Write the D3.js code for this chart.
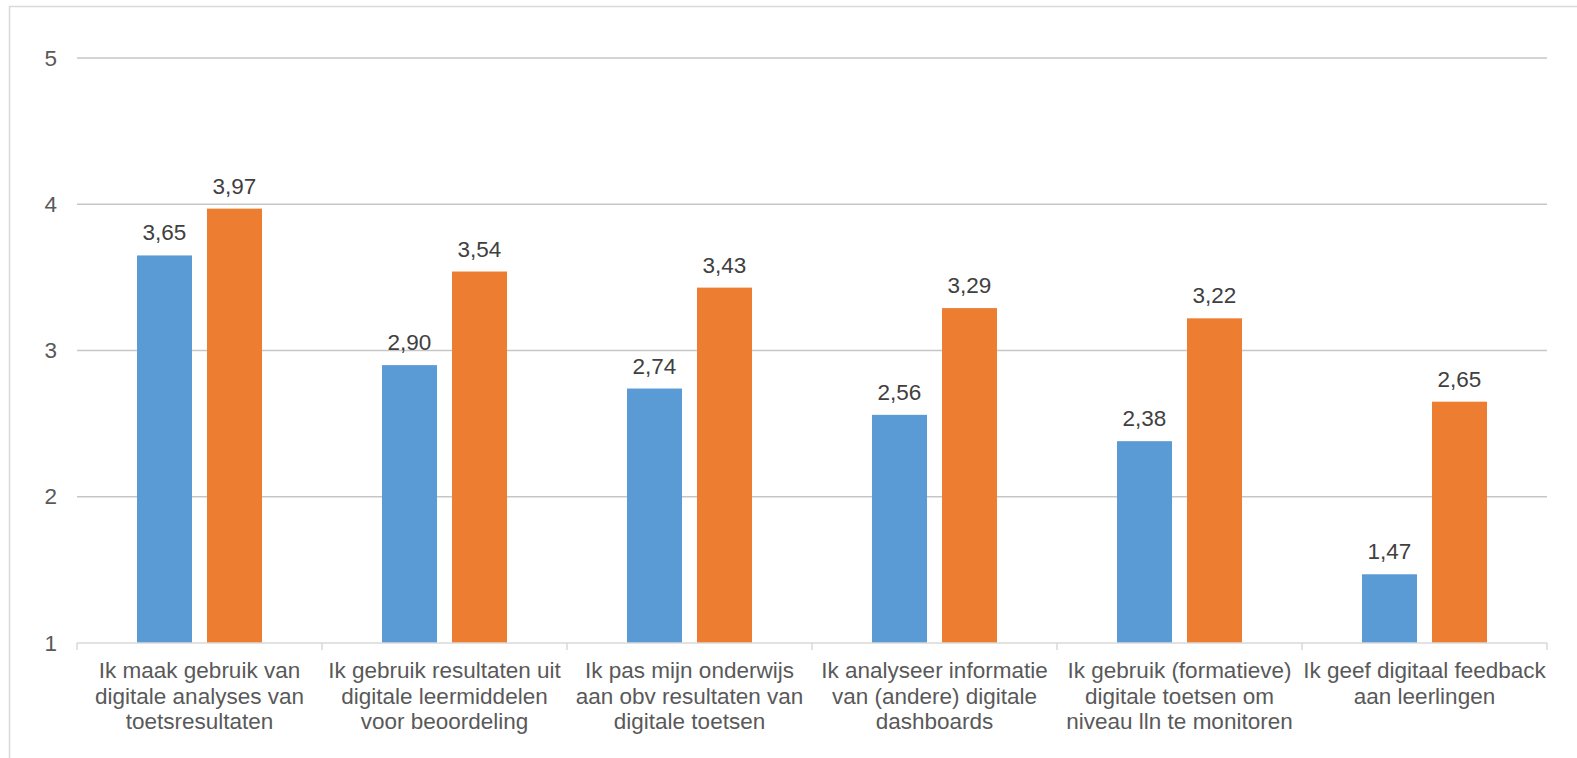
<!DOCTYPE html>
<html>
<head>
<meta charset="utf-8">
<script src="https://cdn.jsdelivr.net/npm/d3@7"></script>
<style>
  html, body { margin: 0; padding: 0; background: #fff; }
  svg { display: block; font-family: "Liberation Sans", Arial, sans-serif; }
</style>
</head>
<body>
<svg id="chart" width="1577" height="758"></svg>
<script>
// Category labels, one entry per line
const categories = [
  ["Ik maak gebruik van", "digitale analyses van", "toetsresultaten"],
  ["Ik gebruik resultaten uit", "digitale leermiddelen", "voor beoordeling"],
  ["Ik pas mijn onderwijs", "aan obv resultaten van", "digitale toetsen"],
  ["Ik analyseer informatie", "van (andere) digitale", "dashboards"],
  ["Ik gebruik (formatieve)", "digitale toetsen om", "niveau lln te monitoren"],
  ["Ik geef digitaal feedback", "aan leerlingen"]
];
const seriesA = [3.65, 2.90, 2.74, 2.56, 2.38, 1.47];
const seriesB = [3.97, 3.54, 3.43, 3.29, 3.22, 2.65];
const yTicks = [1, 2, 3, 4, 5];

const seriesNames = ["A", "B"];
const colors = { A: "#5b9bd5", B: "#ed7d31" };
const fontSize = 22.5;

const svg = d3.select("#chart");

// chart frame
svg.append("rect")
  .attr("x", 9.5).attr("y", 6.5)
  .attr("width", 1600).attr("height", 800)
  .attr("fill", "none").attr("stroke", "#d9d9d9").attr("stroke-width", 1.5);

const plotLeft = 77, plotRight = 1547, plotTop = 58, plotBottom = 643;

const x0 = d3.scaleBand().domain(d3.range(categories.length)).range([plotLeft, plotRight]);
const x1 = d3.scaleBand().domain(seriesNames).range([0, x0.bandwidth()])
  .paddingInner(15 / 70).paddingOuter(60 / 70);
const y = d3.scaleLinear().domain([1, 5]).range([plotBottom, plotTop]);

// gridlines
svg.append("g").selectAll("line").data(yTicks.filter(t => t > 1)).join("line")
  .attr("x1", plotLeft).attr("x2", plotRight)
  .attr("y1", d => y(d)).attr("y2", d => y(d))
  .attr("stroke", "#c6c6c6").attr("stroke-width", 1.5);

// y tick labels
const yAxis = d3.axisLeft(y).tickValues(yTicks).tickSize(0).tickPadding(20).tickFormat(d3.format("d"));
const gy = svg.append("g").attr("transform", `translate(${plotLeft},0)`).call(yAxis);
gy.select(".domain").remove();
gy.selectAll("text")
  .attr("font-size", fontSize).attr("fill", "#595959")
  .attr("font-family", "Liberation Sans, Arial, sans-serif");

// bars
const rows = categories.map((c, i) => ({ i, A: seriesA[i], B: seriesB[i] }));
const groups = svg.append("g").selectAll("g").data(rows).join("g")
  .attr("transform", d => `translate(${x0(d.i)},0)`);

groups.selectAll("rect")
  .data(d => seriesNames.map(k => ({ k, v: d[k] })))
  .join("rect")
  .attr("x", d => x1(d.k))
  .attr("width", x1.bandwidth())
  .attr("y", d => y(d.v))
  .attr("height", d => y(1) - y(d.v))
  .attr("fill", d => colors[d.k]);

// value labels
const fmt = v => d3.format(".2f")(v).replace(".", ",");
groups.selectAll("text.val")
  .data(d => seriesNames.map(k => ({ k, v: d[k] })))
  .join("text")
  .attr("class", "val")
  .attr("x", d => x1(d.k) + x1.bandwidth() / 2)
  .attr("y", d => y(d.v) - 15)
  .attr("text-anchor", "middle")
  .attr("font-size", fontSize)
  .attr("fill", "#404040")
  .text(d => fmt(d.v));

// x axis
const xAxis = d3.axisBottom(x0).tickSize(0).tickFormat(() => "");
const gx = svg.append("g").attr("transform", `translate(0,${plotBottom})`).call(xAxis);
gx.select(".domain").remove();
gx.append("line").attr("x1", plotLeft).attr("x2", plotRight).attr("y1", 0).attr("y2", 0)
  .attr("stroke", "#d9d9d9").attr("stroke-width", 1.5);
// category boundary ticks
gx.selectAll("line.bound")
  .data(d3.range(categories.length + 1))
  .join("line").attr("class", "bound")
  .attr("x1", i => plotLeft + i * x0.step()).attr("x2", i => plotLeft + i * x0.step())
  .attr("y1", 0).attr("y2", 7)
  .attr("stroke", "#d9d9d9").attr("stroke-width", 1.5);

// category labels
const catText = svg.append("g").selectAll("text").data(categories).join("text")
  .attr("x", (d, i) => x0(i) + x0.bandwidth() / 2)
  .attr("y", plotBottom + 35)
  .attr("text-anchor", "middle")
  .attr("font-size", fontSize)
  .attr("fill", "#595959");
catText.selectAll("tspan").data(d => d).join("tspan")
  .attr("x", function () { return d3.select(this.parentNode).attr("x"); })
  .attr("dy", (d, j) => j === 0 ? 0 : 25.7)
  .text(d => d);
</script>
</body>
</html>
